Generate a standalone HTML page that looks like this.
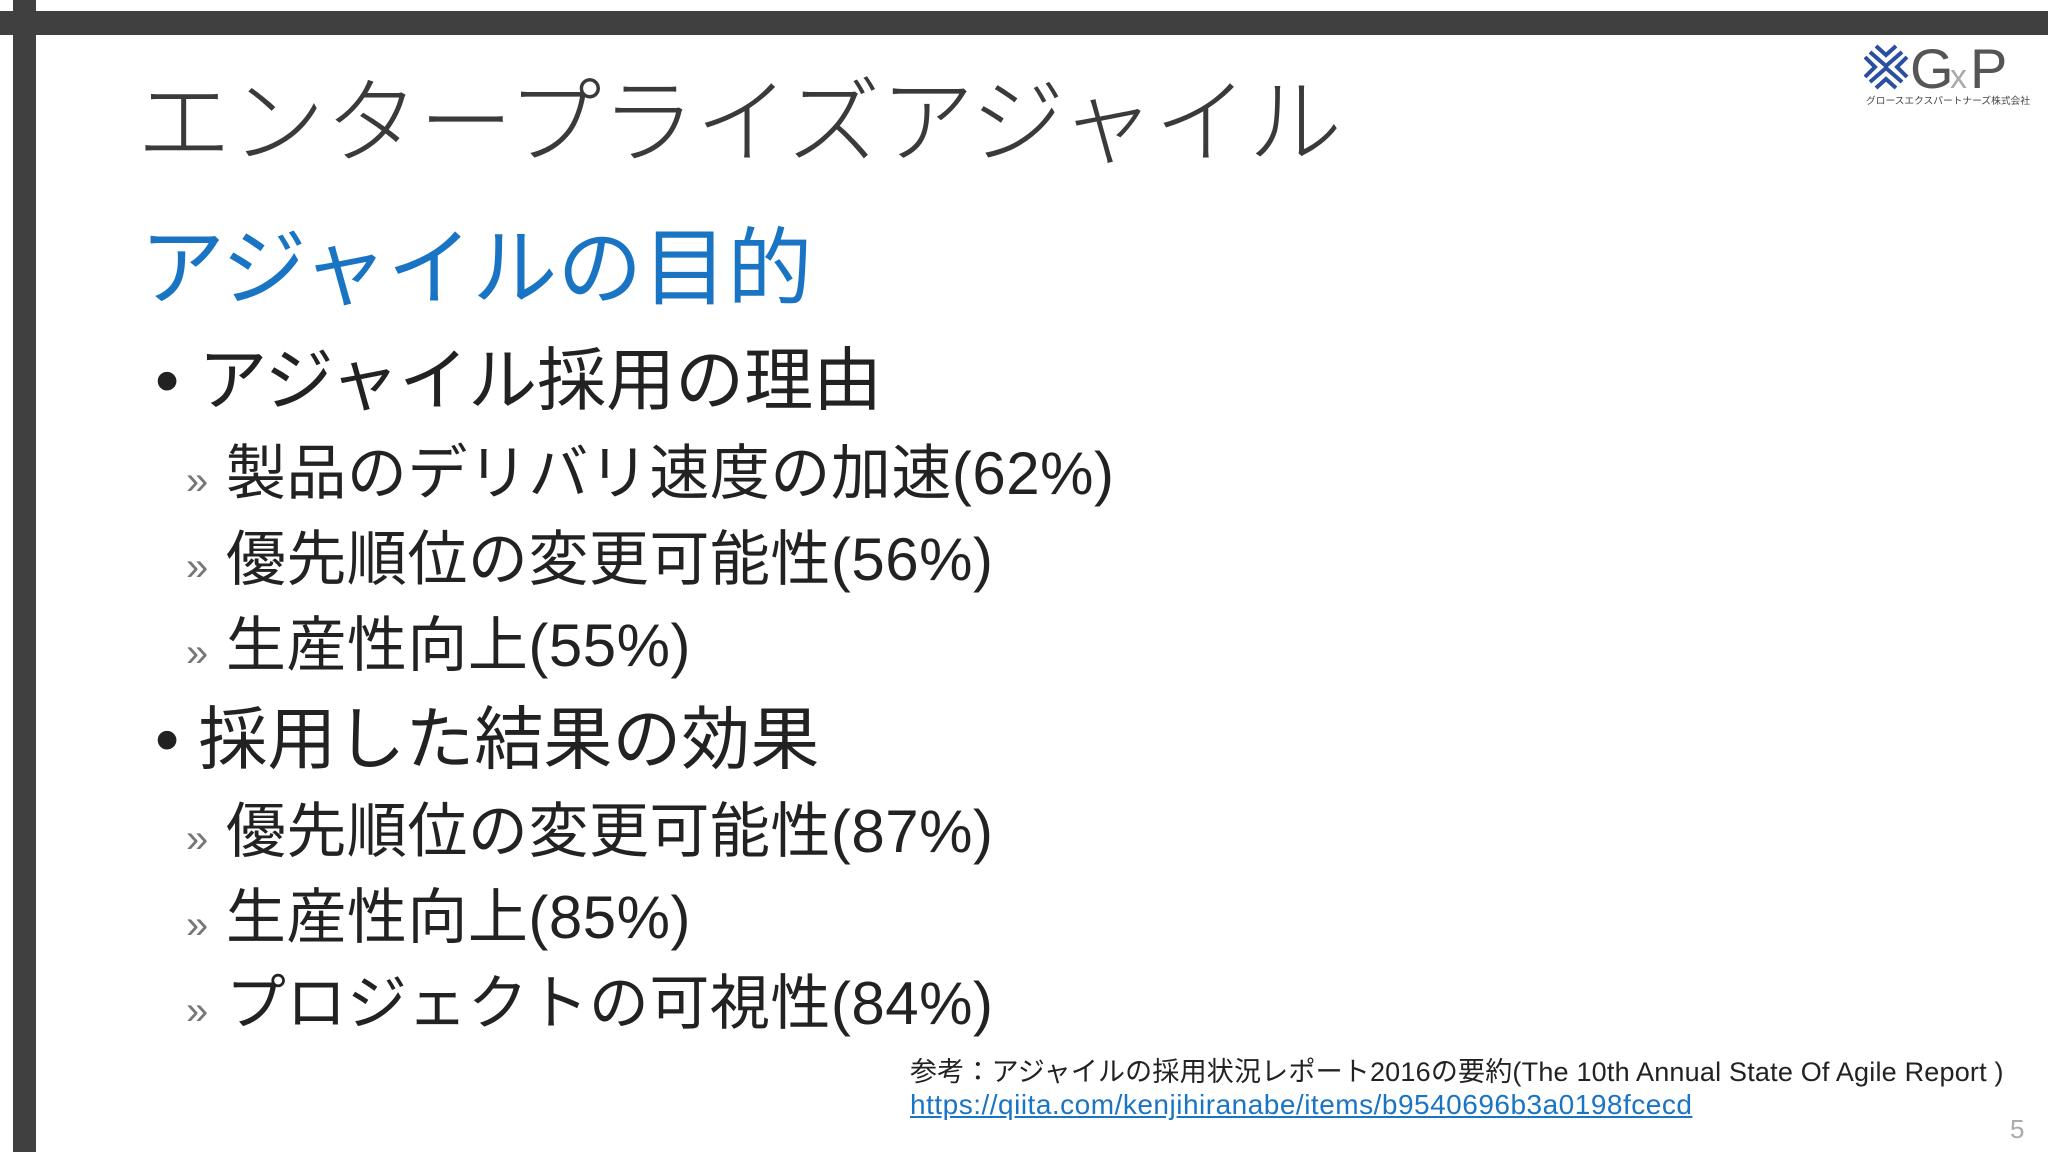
<!DOCTYPE html>
<html><head><meta charset="utf-8"><style>
body{margin:0;width:2048px;height:1152px;background:#fff;position:relative;overflow:hidden;font-family:"Liberation Sans","Noto Sans CJK JP",sans-serif;}
.a{position:absolute;white-space:nowrap;line-height:1;}
.t{color:#404040}
</style></head><body>
<div class="a" style="left:0;top:11px;width:2048px;height:24px;background:#404040"></div>
<div class="a" style="left:13px;top:0;width:23px;height:1152px;background:#404040"></div>
<div class="a t" style="left:137px;top:76px;font-size:94px;font-weight:300;color:#3a3a3a">エンタープライズアジャイル</div>
<div class="a" style="left:140px;top:227px;font-size:85px;color:#1a74c4">アジャイルの目的</div>
<div class="a t" style="left:155px;top:346px;font-size:69px;color:#222">•&nbsp;アジャイル採用の理由</div>
<div class="a" style="left:186px;top:444px;font-size:60px;color:#222;letter-spacing:0.5px"><span style="color:#777;font-size:40px">»</span>&nbsp;製品のデリバリ速度の加速(62%)</div>
<div class="a" style="left:186px;top:530px;font-size:60px;color:#222;letter-spacing:0.5px"><span style="color:#777;font-size:40px">»</span>&nbsp;優先順位の変更可能性(56%)</div>
<div class="a" style="left:186px;top:616px;font-size:60px;color:#222;letter-spacing:0.5px"><span style="color:#777;font-size:40px">»</span>&nbsp;生産性向上(55%)</div>
<div class="a t" style="left:155px;top:705px;font-size:69px;color:#222">•&nbsp;採用した結果の効果</div>
<div class="a" style="left:186px;top:802px;font-size:60px;color:#222;letter-spacing:0.5px"><span style="color:#777;font-size:40px">»</span>&nbsp;優先順位の変更可能性(87%)</div>
<div class="a" style="left:186px;top:888px;font-size:60px;color:#222;letter-spacing:0.5px"><span style="color:#777;font-size:40px">»</span>&nbsp;生産性向上(85%)</div>
<div class="a" style="left:186px;top:974px;font-size:60px;color:#222;letter-spacing:0.5px"><span style="color:#777;font-size:40px">»</span>&nbsp;プロジェクトの可視性(84%)</div>
<div class="a" style="left:910px;top:1059px;font-size:27px;color:#222;letter-spacing:0.2px">参考：アジャイルの採用状況レポート2016の要約(The 10th Annual State Of Agile Report )</div>
<div class="a" style="left:910px;top:1091px;font-size:28px;color:#1a74c4;text-decoration:underline;letter-spacing:0.5px">https://qiita.com/kenjihiranabe/items/b9540696b3a0198fcecd</div>
<div class="a" style="left:2010px;top:1116px;font-size:26px;color:#aaa">5</div>
<svg class="a" style="left:1864px;top:44px" width="180" height="66">
<g stroke="#2b4fa0" stroke-width="4" fill="none">
<path d="M6 8 L22 22 L38 8"/><path d="M12 2 L22 11 L32 2"/><path d="M6 38 L22 24 L38 38"/><path d="M12 44 L22 35 L32 44"/>
<path d="M1 13 L11 23 L1 33"/><path d="M43 13 L33 23 L43 33"/>
</g>
<text x="46" y="44" font-size="56" fill="#555" font-family="Liberation Sans,sans-serif">G</text>
<text x="86" y="44" font-size="34" fill="#aaa" font-family="Liberation Sans,sans-serif">x</text>
<text x="106" y="44" font-size="56" fill="#555" font-family="Liberation Sans,sans-serif">P</text>
<text x="2" y="60" font-size="9.5" fill="#444" font-family="Liberation Sans,Noto Sans CJK JP,sans-serif" textLength="164" lengthAdjust="spacingAndGlyphs">グロースエクスパートナーズ株式会社</text>
</svg>
</body></html>
